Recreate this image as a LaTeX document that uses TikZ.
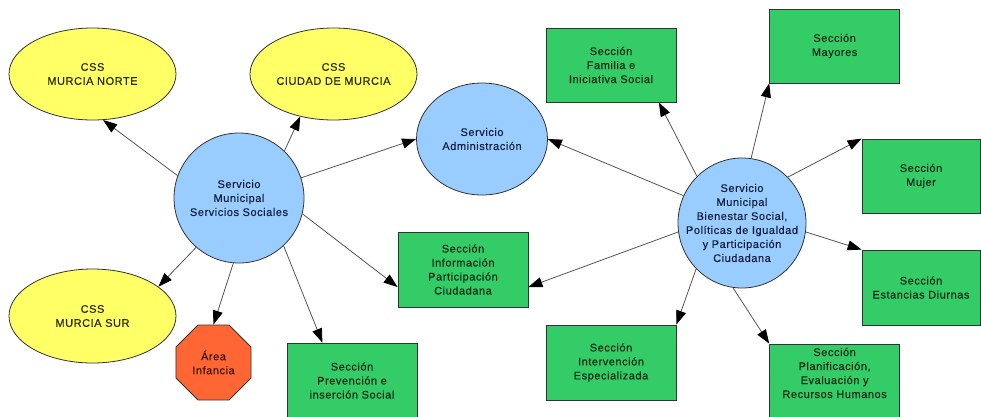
\documentclass[tikz,border=0pt]{standalone}
\usepackage{fontspec}
\setmainfont{Liberation Sans}[LetterSpace=5,FakeBold=0.3]
\usetikzlibrary{shapes.geometric,arrows.meta}
\definecolor{yel}{HTML}{FFFF66}
\definecolor{blu}{HTML}{99CCFF}
\definecolor{grn}{HTML}{33CC66}
\definecolor{org}{HTML}{FF6633}
\definecolor{bord}{HTML}{333333}
\definecolor{lin}{HTML}{555555}
\definecolor{tyel}{HTML}{2A2A10}
\definecolor{tblu}{HTML}{15203F}
\definecolor{tgrn}{HTML}{0E2A16}
\definecolor{torg}{HTML}{3A140A}
\tikzset{
  base/.style={draw=bord, line width=0.8pt, align=center, inner sep=0pt,
    font=\fontsize{11}{14}\selectfont},
  cssnode/.style={base, ellipse, inner xsep=-20pt, fill=yel, text=tyel, minimum width=167pt, minimum height=92pt},
  servnode/.style={base, ellipse, inner xsep=-20pt, inner ysep=-10pt, fill=blu, text=tblu},
  secbox/.style={base, rectangle, fill=grn, text=tgrn, minimum width=130pt, minimum height=75pt},
  areanode/.style={base, regular polygon, regular polygon sides=8, fill=org, text=torg, minimum size=81.2pt},
  gtext/.style={align=center, inner sep=0pt, text=tgrn, font=\fontsize{11}{14}\selectfont},
  arr/.style={draw=lin, line width=0.8pt, -{Triangle[length=14pt,width=10pt,fill=black,color=black]}}
}
\begin{document}
\begin{tikzpicture}[x=1pt,y=-1pt]
\useasboundingbox[fill=white] (0,0) rectangle (981,416);
% CSS ellipses
\node[cssnode] (norte) at (92.5,74) {CSS\\MURCIA NORTE};
\node[cssnode] (ciudad) at (333.5,74) {CSS\\CIUDAD DE MURCIA};
\node[cssnode, minimum height=94pt] (sur) at (92.5,316) {CSS\\MURCIA SUR};
% services
\node[servnode, minimum width=130pt, minimum height=130pt] (ss) at (239,198) {Servicio\\Municipal\\Servicios Sociales};
\node[servnode, minimum width=131pt, minimum height=112pt] (admin) at (482,139) {Servicio\\Administración};
\node[servnode, minimum width=128pt, minimum height=130pt] (bien) at (742,223) {Servicio\\Municipal\\Bienestar Social,\\Políticas de Igualdad\\y Participación\\Ciudadana};
% area
\node[areanode] (inf) at (213.5,362.5) {Área\\Infancia};
% sections
\node[secbox, minimum height=74pt] (fam) at (611,65) {Sección\\Familia e\\Iniciativa Social};
\node[secbox, minimum height=74pt] (may) at (834.6,46) {Sección\\Mayores};
\node[secbox, minimum width=118pt, minimum height=74pt] (mujer) at (921,176) {Sección\\Mujer};
\node[secbox] (info) at (463,269.5) {Sección\\Información\\Participación\\Ciudadana};
\node[secbox] (prev) at (352,380.5) {Sección\\Prevención e\\inserción Social};
\node[secbox] (inter) at (611,362.5) {Sección\\Intervención\\Especializada};
\node[secbox] (plan) at (834.6,381.5) {};
\node[gtext] at ([yshift=8.5pt]plan.center) {Sección\\Planificación,\\Evaluación y\\Recursos Humanos};
\node[secbox, minimum width=118pt] (est) at (921,287.5) {Sección\\Estancias Diurnas};
% connectors from Servicios Sociales
\draw[arr] (ss.160) -- (norte.283);
\draw[arr] (ss.46) -- (ciudad.232);
\draw[arr] (ss.18) -- (admin.west);
\draw[arr] (ss.229) -- (sur.24);
\draw[arr] (ss.265) -- (inf.north);
\draw[arr] (ss.313) -- (prev.128);
\draw[arr] (ss.346) -- (info.195);
% connectors from Bienestar Social
\draw[arr] (bien.155) -- (admin.east);
\draw[arr] (bien.134) -- (fam.322);
\draw[arr] (bien.82) -- (may.south west);
\draw[arr] (bien.45) -- (mujer.north west);
\draw[arr] (bien.188) -- (info.345);
\draw[arr] (bien.352) -- (est.north west);
\draw[arr] (bien.225) -- (inter.north east);
\draw[arr] (bien.262) -- (plan.north west);
\end{tikzpicture}
\end{document}
